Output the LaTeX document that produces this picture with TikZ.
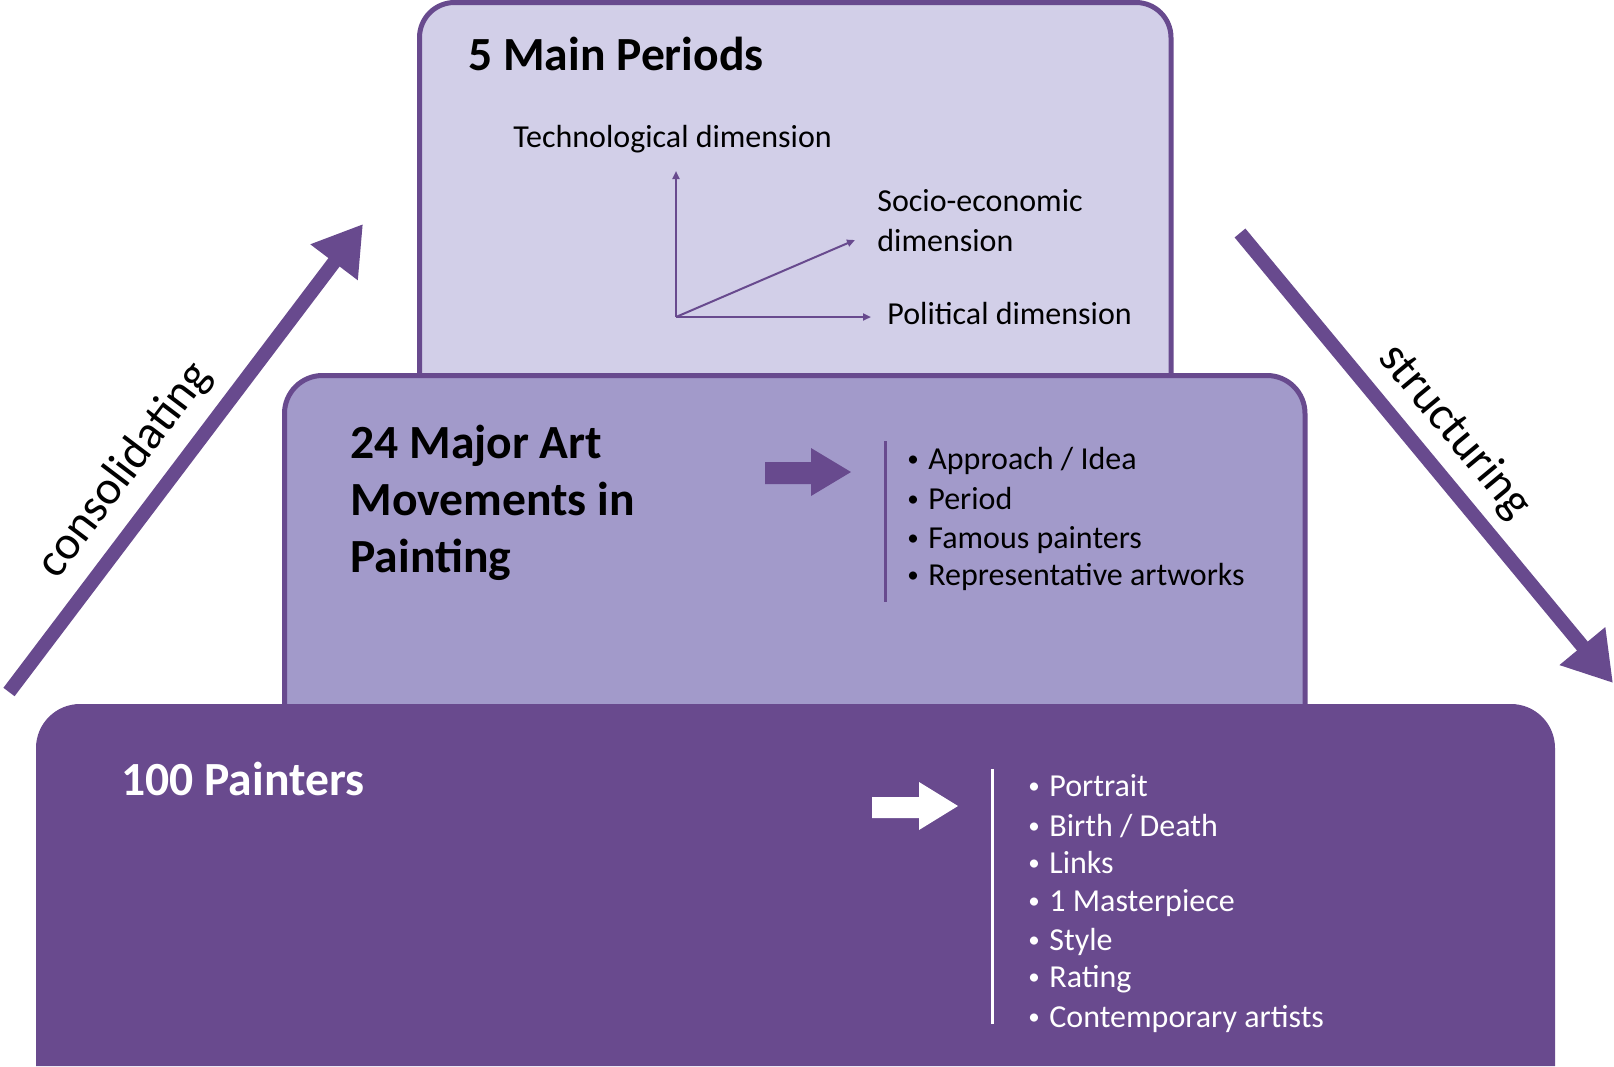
\documentclass[tikz,border=0pt]{standalone}
\usepackage{fontspec}
\setmainfont{Carlito}
\usetikzlibrary{arrows.meta}
\definecolor{pborder}{RGB}{104,74,142}
\definecolor{ptop}{RGB}{210,207,232}
\definecolor{pmid}{RGB}{162,154,202}
\definecolor{pbot}{RGB}{105,74,142}
\newcommand{\bigsz}{\fontsize{23.8}{28}\selectfont}
\newcommand{\regsz}{\fontsize{16}{19}\selectfont}
\newcommand{\bul}[1]{\makebox[10.5pt][l]{\raisebox{1.3pt}{\fontsize{11.5}{11.5}\selectfont\textbullet}}#1}
\begin{document}
\begin{tikzpicture}[x=0.5pt,y=-0.5pt,
  txt/.style={inner sep=0pt, anchor=base west},
  titletxt/.style={txt, font=\bigsz\bfseries},
  itemtxt/.style={txt, font=\regsz},
  bigarrow/.style={draw=pborder, line width=7pt, -{Triangle[length=24pt,width=28pt]}},
  axisarrow/.style={draw=pborder, line width=1pt, -{Triangle[length=4pt,width=3.5pt]}},
  tier/.style={line width=2.5pt, draw=pborder}]
\useasboundingbox (0,0) rectangle (1614,1067);

% tiers
\path[tier, fill=ptop, rounded corners=17.5pt] (419.5,420) -- (419.5,2.5) -- (1171,2.5) -- (1171,420);
\path[tier, fill=pmid, rounded corners=19pt] (284.5,720) -- (284.5,375.5) -- (1305,375.5) -- (1305,720);
\path[fill=pbot, rounded corners=22pt] (36,1066) -- (36,704) -- (1555,704) -- (1555,1066);

% top tier
\node[titletxt] (p5) at (468,70) {5 Main Periods};
\coordinate (o) at (676,317);
\coordinate (ytip) at (676,171);
\coordinate (xtip) at (871,317);
\coordinate (dtip) at (855,240);
\draw[axisarrow] (o) -- (ytip);
\draw[axisarrow] (o) -- (xtip);
\draw[axisarrow] (o) -- (dtip);
\node[itemtxt] (tech) at (513,147) {Technological dimension};
\node[itemtxt] (socio1) at (877,211) {Socio-economic};
\node[itemtxt] (socio2) at (877,251) {dimension};
\node[itemtxt] (pol) at (887,324) {Political dimension};

% middle tier
\node[titletxt] (m1) at (350,458) {24 Major Art};
\node[titletxt] (m2) at (350,515) {Movements in};
\node[titletxt] (m3) at (350,572) {Painting};
\fill[pborder] (765,462) -- (811,462) -- (811,448) -- (851,472) -- (811,496) -- (811,484) -- (765,484) -- cycle;
\coordinate (mv1) at (885,441);
\coordinate (mv2) at (885,602);
\draw[pborder, line width=1.5pt] (mv1) -- (mv2);
\node[itemtxt] (a1) at (907,469) {\bul{Approach / Idea}};
\node[itemtxt] (a2) at (907,509) {\bul{Period}};
\node[itemtxt] (a3) at (907,548) {\bul{Famous painters}};
\node[itemtxt] (a4) at (907,585) {\bul{Representative artworks}};

% bottom tier
\node[titletxt, text=white] (h1) at (121,795) {100 Painters};
\fill[white] (872,797) -- (919,797) -- (919,782) -- (958,806) -- (919,830) -- (919,818) -- (872,818) -- cycle;
\coordinate (bv1) at (992,769);
\coordinate (bv2) at (992,1024);
\draw[white, line width=1.5pt] (bv1) -- (bv2);
\begin{scope}[every node/.append style={text=white}]
\node[itemtxt] (b1) at (1028,796) {\bul{Portrait}};
\node[itemtxt] (b2) at (1028,836) {\bul{Birth / Death}};
\node[itemtxt] (b3) at (1028,873) {\bul{Links}};
\node[itemtxt] (b4) at (1028,911) {\bul{1 Masterpiece}};
\node[itemtxt] (b5) at (1028,950) {\bul{Style}};
\node[itemtxt] (b6) at (1028,987) {\bul{Rating}};
\node[itemtxt] (b7) at (1028,1027) {\bul{Contemporary artists}};
\end{scope}

% side arrows
\coordinate (c0) at (9,692);
\coordinate (c1) at (363,224);
\draw[bigarrow] (c0) -- (c1) node[pos=.42, sloped, above=3.5pt, font=\bigsz, text=black] (lab1) {consolidating};
\coordinate (s0) at (1240,233);
\coordinate (s1) at (1613,683);
\draw[bigarrow] (s0) -- (s1) node[pos=.496, sloped, above=2pt, font=\bigsz, text=black] (lab2) {structuring};
\end{tikzpicture}
\end{document}
